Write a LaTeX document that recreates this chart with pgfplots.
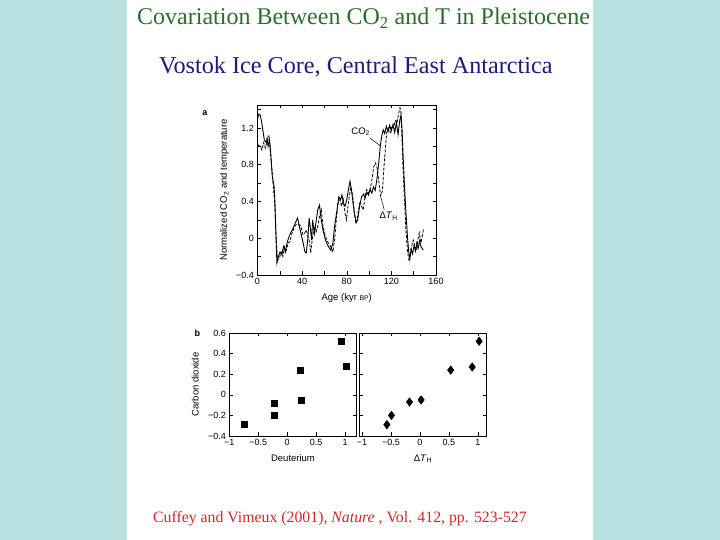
\documentclass[border=0pt]{standalone}
\usepackage{fontspec}
\setmainfont{Liberation Serif}
\newfontfamily\axfont{Liberation Sans}
\usepackage{pgfplots}
\pgfplotsset{compat=1.18}
\definecolor{bgblue}{RGB}{185,224,225}
\definecolor{titlegreen}{RGB}{42,112,42}
\definecolor{titleblue}{RGB}{28,28,122}
\definecolor{citered}{RGB}{210,40,40}

\pgfplotsset{
  vostok/.style={
    scale only axis, clip=false,
    axis line style={line width=0.6pt},
    tick style={black, line width=0.5pt},
    major tick length=3.5pt, minor tick length=3.5pt,
    ticklabel style={font=\axfont\fontsize{9}{10}\selectfont},
    label style={font=\axfont\fontsize{9.5}{10}\selectfont},
  }
}

\begin{document}
\begin{tikzpicture}[x=1pt,y=1pt]
\fill[bgblue] (0,0) rectangle (720,540);
\fill[white] (127,0) rectangle (593,540);

\node[anchor=base west, inner sep=0, text=titlegreen, font=\fontsize{24}{26}\selectfont] at (137,515)
  {Covariation Between CO\textsubscript{2} and T in Pleistocene};
\node[anchor=base west, inner sep=0, text=titleblue, font=\fontsize{24.2}{26}\selectfont] at (159,466)
  {Vostok Ice Core, Central East Antarctica};
\node[anchor=base west, inner sep=0, text=citered, font=\fontsize{15.8}{18}\selectfont] at (153,17)
  {Cuffey and Vimeux (2001), \textit{Nature} , Vol. 412, pp. 523-527};

\node[font=\axfont\bfseries\fontsize{9}{9}\selectfont] at (205,426.7) {a};
\node[font=\axfont\bfseries\fontsize{9}{9}\selectfont] at (197.3,206.7) {b};

% panel a: time series
\begin{axis}[vostok,
  at={(257.5pt,265pt)}, anchor=south west,
  width=178.5pt, height=170pt,
  xmin=0, xmax=160, ymin=-0.4, ymax=1.45,
  xtick={0,40,80,120,160}, xticklabels={0,40,80,120,160},
  minor xtick={20,60,100,140},
  ytick={-0.4,0,0.4,0.8,1.2}, yticklabels={−0.4,0,0.4,0.8,1.2},
  minor ytick={-0.2,0.2,0.6,1.0,1.4},
  xlabel={Age (kyr {\fontsize{6.8}{7}\selectfont BP})},
  ylabel={Normalized CO\textsubscript{2} and temperature},
  xlabel style={at={(axis description cs:0.5,0)}, anchor=center, yshift=-23pt},
  ylabel style={at={(axis description cs:0,0.5)}, anchor=center, yshift=33pt},
]
\addplot[black, line width=0.9pt] table {
0 1.30
1.2 1.35
2.5 1.34
3.9 1.25
6.1 1.07
7.7 1.04
8.6 1.09
9.5 1.00
10.8 1.07
11.7 0.95
13.3 0.67
14.9 0.56
15.5 0.42
16.5 0.05
17.4 -0.27
18.7 -0.20
20.2 -0.15
21.8 -0.18
23.4 -0.09
25.0 -0.15
26.7 -0.04
29.0 0.04
31.2 0.09
33.7 0.16
35.9 0.22
37.5 0.13
39.0 0.05
40.9 -0.05
42.5 -0.15
43.7 -0.16
45.0 -0.02
46.3 0.22
47.2 0.13
48.5 -0.02
49.4 0.20
51.0 0.05
52.5 0.18
54.0 0.31
55.6 0.36
56.9 0.22
58.7 0.09
60.9 -0.02
63.5 -0.09
65.7 -0.13
67.6 -0.05
69.1 0.13
71.3 0.31
72.9 0.45
74.5 0.42
75.7 0.47
77.0 0.38
78.5 0.35
80.0 0.42
81.6 0.53
82.9 0.62
84.5 0.50
86.5 0.30
88.3 0.17
89.8 0.20
91.5 0.35
93.3 0.45
95.0 0.48
96.5 0.44
98.0 0.50
99.5 0.47
100.8 0.53
102.5 0.49
104.0 0.56
105.5 0.52
107.0 0.64
108.5 0.80
110.0 1.00
111.5 1.12
112.7 1.18
114.0 1.14
115.5 1.22
117.0 1.16
118.5 1.23
120.0 1.17
121.5 1.24
123.0 1.15
124.5 1.26
126.0 1.13
127.5 1.28
128.6 1.34
129.5 1.20
130.5 0.90
131.8 0.55
133.2 0.25
134.5 0.00
135.5 -0.14
136.6 -0.22
137.8 -0.12
139.0 -0.17
140.3 -0.08
141.5 -0.14
142.8 -0.05
144.0 -0.11
145.3 -0.03
146.5 -0.09
148.6 -0.13
};
\addplot[black, line width=0.8pt, dash pattern=on 3pt off 1.6pt] table {
0 1.02
2.3 1.00
3.9 0.96
5.5 1.04
7.0 0.98
8.6 1.05
10.2 1.11
11.1 1.00
12.4 0.82
13.9 0.60
15.5 0.38
16.8 -0.02
18.0 -0.24
19.6 -0.22
21.1 -0.15
22.7 -0.20
24.3 -0.09
25.8 -0.13
27.4 -0.05
29.0 -0.04
30.5 0.04
32.7 0.11
34.6 0.15
36.8 0.15
39.0 0.13
40.6 0.04
42.1 0.05
43.7 0.09
45.3 0.02
46.8 -0.05
47.7 -0.16
48.7 -0.05
49.9 0.05
51.2 0.13
52.5 0.07
54.0 0.13
55.6 0.24
57.2 0.31
58.7 0.13
60.9 0.02
63.4 -0.05
65.6 -0.09
67.5 -0.15
69.1 -0.02
70.6 0.20
72.2 0.38
73.8 0.42
75.3 0.35
76.9 0.42
78.5 0.27
79.7 0.20
80.7 0.31
82.2 0.45
83.8 0.56
85.4 0.45
86.9 0.27
88.5 0.16
90.1 0.27
91.6 0.38
93.2 0.35
94.8 0.31
96.3 0.45
97.9 0.53
99.5 0.49
101.0 0.53
102.6 0.64
104.2 0.78
105.7 0.82
107.3 0.76
108.9 0.60
110.4 0.46
112.0 0.52
113.5 0.80
115.8 1.15
117.5 1.20
119.0 1.15
120.5 1.22
122.0 1.20
123.5 1.28
125.0 1.25
126.5 1.36
127.7 1.42
128.5 1.38
129.5 1.10
130.5 0.75
131.8 0.40
133.0 0.10
134.5 -0.15
136.0 -0.25
137.5 -0.12
139.6 -0.02
141.0 -0.08
142.5 -0.13
144.0 0.00
145.0 0.06
146.5 -0.05
149.0 0.11
};
\node[font=\axfont\fontsize{9.5}{10}\selectfont] at (axis cs:92.5,1.16) {CO\textsubscript{2}};
\draw[black, line width=0.5pt] (axis cs:100.8,1.09) -- (axis cs:110.7,1.0);
\node[font=\axfont\fontsize{9.5}{10}\selectfont] at (axis cs:117.5,0.24) {Δ\textit{T}\textsubscript{H}};
\draw[black, line width=0.5pt] (axis cs:113.6,0.31) -- (axis cs:110.7,0.44);
\end{axis}

% panel b left: CO2 vs deuterium
\begin{axis}[vostok,
  at={(229.3pt,104pt)}, anchor=south west,
  width=127.4pt, height=103pt,
  xmin=-1, xmax=1.2, ymin=-0.4, ymax=0.6,
  xtick={-1,-0.5,0,0.5,1}, xticklabels={−1,−0.5,0,0.5,1},
  ytick={-0.4,-0.2,0,0.2,0.4,0.6}, yticklabels={−0.4,−0.2,0,0.2,0.4,0.6},
  xlabel={Deuterium}, ylabel={Carbon dioxide},
  xlabel style={at={(axis description cs:0.5,0)}, anchor=center, yshift=-22.5pt},
  ylabel style={at={(axis description cs:0,0.5)}, anchor=center, yshift=34pt},
]
\addplot[only marks, mark=square*, mark size=3pt, black] table {
-0.74 -0.285
-0.23 -0.08
-0.23 -0.20
0.22 0.24
0.24 -0.05
0.93 0.52
1.02 0.28
};
\end{axis}

% panel b right: CO2 vs Delta T_H
\begin{axis}[vostok,
  at={(359pt,104pt)}, anchor=south west,
  width=127.7pt, height=103pt,
  xmin=-1.05, xmax=1.15, ymin=-0.4, ymax=0.6,
  xtick={-1,-0.5,0,0.5,1}, xticklabels={−1,−0.5,0,0.5,1},
  ytick={-0.4,-0.2,0,0.2,0.4,0.6}, yticklabels={},
  xlabel={Δ\textit{T}\textsubscript{H}},
  xlabel style={at={(axis description cs:0.5,0)}, anchor=center, yshift=-22.5pt},
]
\addplot[only marks, mark=diamond*, mark size=4.3pt, black] table {
-0.57 -0.29
-0.49 -0.20
-0.18 -0.07
0.02 -0.05
0.53 0.24
0.90 0.27
1.02 0.52
};
\end{axis}
\end{tikzpicture}
\end{document}
